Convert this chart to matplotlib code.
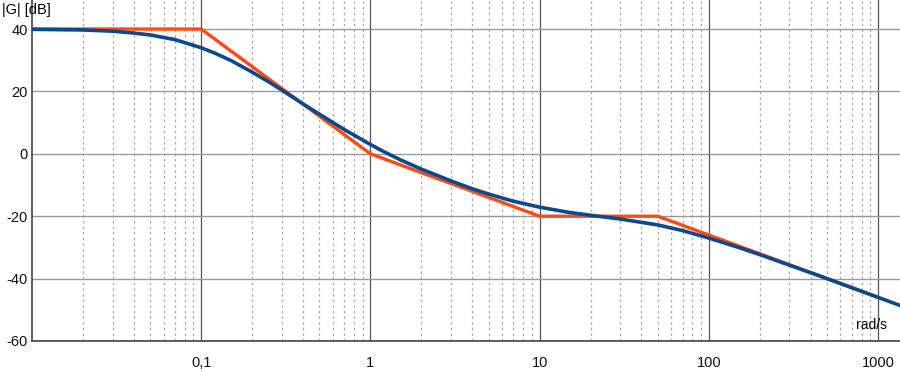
import matplotlib
matplotlib.use("Agg")
import matplotlib.pyplot as plt
from matplotlib.ticker import FixedLocator, LogLocator, NullFormatter

plt.rcParams["font.family"] = ["Liberation Sans", "DejaVu Sans"]
plt.rcParams["axes.unicode_minus"] = False

# asymptotic (straight-line) magnitude
asym_w = [0.01, 0.1, 1, 10, 50, 1000]
asym_db = [40, 40, 0, -20, -20, -46]

mag_w = [0.01, 0.02, 0.03, 0.04, 0.05, 0.07, 0.1, 0.12, 0.15, 0.2, 0.25, 0.3, 0.4, 0.5, 0.7,
         1, 1.2, 1.5, 2, 3, 4, 5, 7, 10, 15, 20, 30, 50, 70,
         100, 150, 200, 300, 500, 700, 1000, 1350]
mag_db = [39.9, 39.7, 39.3, 38.7, 38.1, 36.6, 34.0, 32.3, 29.9, 26.2, 23.1, 20.4, 16.0, 12.7, 7.8,
          3.0, 0.7, -1.9, -4.9, -8.7, -11.2, -12.9, -15.2, -17.1, -18.8, -19.7, -20.9, -22.8, -24.6,
          -27.0, -30.0, -32.3, -35.7, -40.0, -42.9, -46.0, -48.6]

x_ticks = [0.1, 1, 10, 100, 1000]
x_labels = ["0,1", "1", "10", "100", "1000"]
y_ticks = [-60, -40, -20, 0, 20, 40]

fig = plt.figure(figsize=(9, 3.72), dpi=100)
ax = fig.add_axes([32/900, 31/372, 1 - 32/900, 1 - 31/372])

ax.set_xscale("log")
ax.set_xlim(0.01, 1350)
ax.set_ylim(-60, 49.3)

ax.xaxis.set_major_locator(FixedLocator(x_ticks))
ax.set_xticklabels(x_labels)
ax.xaxis.set_minor_locator(LogLocator(base=10, subs=range(2, 10), numticks=20))
ax.xaxis.set_minor_formatter(NullFormatter())
ax.set_yticks(y_ticks)

ax.grid(axis="y", color="#999999", lw=1)
ax.grid(axis="x", which="major", color="#555555", lw=0.9)
ax.grid(axis="x", which="minor", color="#aaaaaa", lw=0.9, ls=(0, (2, 2.5)))
ax.set_axisbelow(True)

ax.tick_params(which="both", length=0, labelsize=10.5, colors="#111111")
ax.tick_params(axis="x", pad=11)
ax.tick_params(axis="y", pad=3)

for s in ["top", "right"]:
    ax.spines[s].set_visible(False)
for s in ["left", "bottom"]:
    ax.spines[s].set_color("#444444")
    ax.spines[s].set_linewidth(1.2)

ax.plot(asym_w, asym_db, color="#ff4a14", lw=2.4, solid_joinstyle="miter", zorder=3)
ax.plot(mag_w, mag_db, color="#0a4a8c", lw=2.6, solid_joinstyle="round", zorder=4)

fig.text(2/900, 1 - 10/372, "|G| [dB]", fontsize=10.5, ha="left", va="center")
fig.text(856/900, 1 - 325/372, "rad/s", fontsize=10, ha="left", va="center")

fig.savefig("out.png", dpi=100)
